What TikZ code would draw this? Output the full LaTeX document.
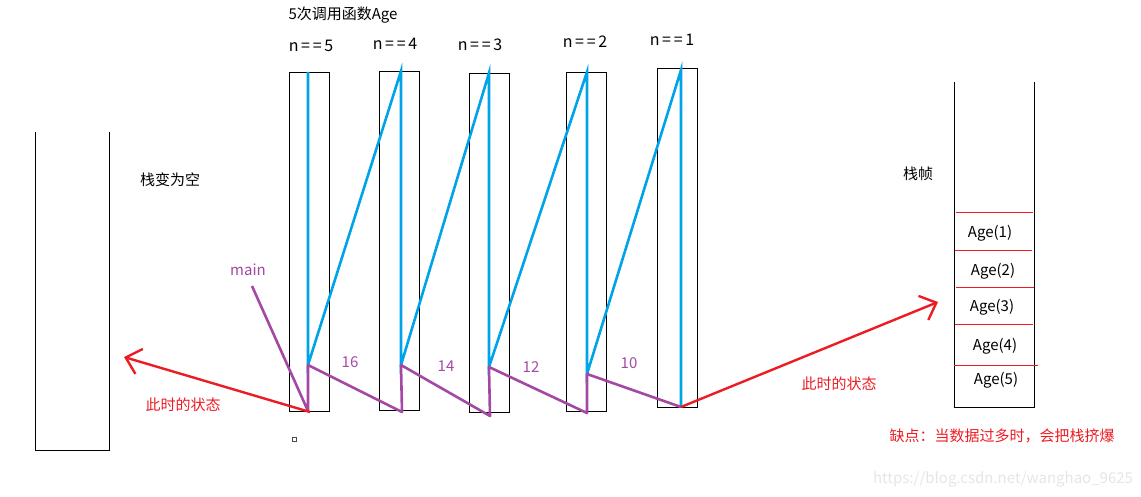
\documentclass[tikz,border=0pt]{standalone}
\usepackage{fontspec}
\setmainfont{Noto Sans CJK SC}
\usepackage{xcolor}
\usetikzlibrary{arrows.meta}

\definecolor{callblue}{HTML}{00A2E8}
\definecolor{retpurple}{HTML}{A349A4}
\definecolor{markred}{HTML}{ED1C24}

\begin{document}
\begin{tikzpicture}[
		x=1pt, y=-1pt,
		every node/.style={font=\fontsize{15}{17}\selectfont, inner sep=1pt},
		frame/.style={black, line width=0.9pt},
		stack/.style={black, line width=1pt},
		call/.style={callblue, line width=2.6pt},
		ret/.style={retpurple, line width=2.6pt, line join=round},
		state/.style={markred, line width=2.4pt, -{Straight Barb[length=14pt, width=26pt, line width=2.4pt]}},
		slot/.style={markred, line width=0.8pt},
		redtext/.style={text=markred},
		valtext/.style={text=retpurple},
		callname/.style={font=\fontsize{16}{18}\selectfont}
		]
	\useasboundingbox (0, 0) rectangle (1141, 497);
	
	% Left empty stack
	\draw[stack] (35, 132) -- (35, 450) -- (109, 450) -- (109, 132);
	\node (empty) at (170, 180) {栈变为空};
	
	% Title
	\node (title) at (343, 15) {5次调用函数Age};
	
	% Frames of the five calls
	\draw[frame] (289, 72) rectangle (329, 411);
	\draw[frame] (379, 71) rectangle (419, 410);
	\draw[frame] (469, 73) rectangle (509, 412);
	\draw[frame] (566, 72) rectangle (606, 411);
	\draw[frame] (657, 68) rectangle (697, 407);
	
	\node[callname] (n5) at (311, 46) {n\,=\,=\,5};
	\node[callname] (n4) at (395, 44) {n\,=\,=\,4};
	\node[callname] (n3) at (480, 45) {n\,=\,=\,3};
	\node[callname] (n2) at (585, 42) {n\,=\,=\,2};
	\node[callname] (n1) at (672, 40) {n\,=\,=\,1};
	
	% Top, middle and bottom points of each call
	\coordinate (t5) at (308, 72);  \coordinate (m5) at (308, 365); \coordinate (b5) at (308, 411);
	\coordinate (t4) at (401, 71);  \coordinate (m4) at (401, 365); \coordinate (b4) at (402, 412);
	\coordinate (t3) at (489, 73);  \coordinate (m3) at (489, 367); \coordinate (b3) at (490, 416);
	\coordinate (t2) at (587, 72);  \coordinate (m2) at (587, 374); \coordinate (b2) at (587, 413);
	\coordinate (t1) at (681, 70);  \coordinate (b1) at (681, 407);
	
	% Calls going down
	\draw[call] (t5) -- (m5) -- (t4) -- (m4) -- (t3) -- (m3) -- (t2) -- (m2) -- (t1) -- (b1);
	
	% Returns coming back
	\node[valtext] (main) at (248, 270) {main};
	\coordinate (mainfoot) at (252, 286);
	\draw[ret] (mainfoot) -- (b5) -- (m5) -- (b4) -- (m4) -- (b3) -- (m3) -- (b2) -- (m2) -- (b1);
	
	\node[valtext] (v16) at (350, 362) {16};
	\node[valtext] (v14) at (446, 366) {14};
	\node[valtext] (v12) at (531, 367) {12};
	\node[valtext] (v10) at (629, 363) {10};
	
	% Small mark under the first frame
	\draw[black!70, line width=0.8pt] (292, 437) rectangle (296, 441);
	
	% State arrows
	\coordinate (lefttip) at (124, 357);
	\coordinate (righttip) at (938, 302);
	\draw[state] (b5) ++(2, 1) -- (lefttip);
	\draw[state] (b1) -- (righttip);
	\node[redtext] (stateleft) at (183, 405) {此时的状态};
	\node[redtext] (stateright) at (839, 384) {此时的状态};
	
	% Right stack with the frames
	\draw[stack] (954, 82) -- (954, 407) -- (1034, 407) -- (1034, 82);
	\node (frames) at (918, 174) {栈帧};
	\draw[slot] (956, 212) -- (1033, 212);
	\draw[slot] (955, 250) -- (1032, 250);
	\draw[slot] (956, 287) -- (1034, 287);
	\draw[slot] (955, 324) -- (1033, 324);
	\draw[slot] (954, 365) -- (1038, 365);
	\node (age1) at (990, 233) {Age(1)};
	\node (age2) at (993, 271) {Age(2)};
	\node (age3) at (992, 307) {Age(3)};
	\node (age4) at (995, 346) {Age(4)};
	\node (age5) at (996, 380) {Age(5)};
	
	\node[redtext] (note) at (1002, 436) {缺点：当数据过多时，会把栈挤爆};
	
	% Watermark
	\node[text=black!10] (mark) at (1003, 479) {https://blog.csdn.net/wanghao\_9625};
	
\end{tikzpicture}
\end{document}
